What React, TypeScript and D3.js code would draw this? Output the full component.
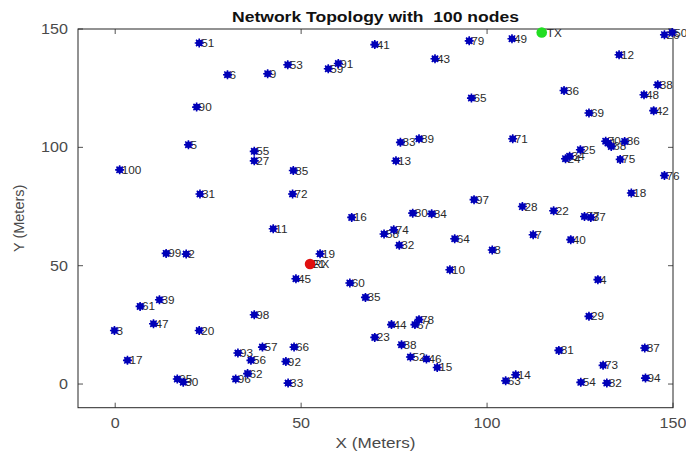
import React from 'react';
import * as d3 from 'd3';

const titleText = 'Network Topology with  100 nodes';
const xLabel = 'X (Meters)';
const yLabel = 'Y (Meters)';
const xTicks = [0, 50, 100, 150];
const yTicks = [0, 50, 100, 150];

const nodeIds = [
  1, 2, 3, 4, 5, 6, 7, 8, 9, 10,
  11, 12, 13, 14, 15, 16, 17, 18, 19, 20,
  21, 22, 23, 24, 25, 26, 27, 28, 29, 30,
  31, 32, 33, 34, 35, 36, 37, 38, 39, 40,
  41, 42, 43, 44, 45, 46, 47, 48, 49, 50,
  51, 52, 53, 54, 55, 56, 57, 58, 59, 60,
  61, 62, 63, 64, 65, 66, 67, 68, 69, 70,
  71, 72, 73, 74, 75, 76, 77, 78, 79, 80,
  81, 82, 83, 84, 85, 86, 87, 88, 89, 90,
  91, 92, 93, 94, 95, 96, 97, 98, 99, 100,
];
const nodeX = [
  132.5, 19.1, -0.2, 129.8, 19.7, 30.2, 112.4, 101.4, 41.0, 90.0,
  42.5, 135.5, 75.5, 107.7, 86.6, 63.6, 3.3, 138.8, 55.1, 22.6,
  52.4, 117.9, 69.8, 121.1, 125.1, 147.7, 37.4, 109.5, 127.4, 18.3,
  22.8, 76.4, 46.5, 122.2, 67.3, 120.7, 127.9, 145.9, 11.9, 122.5,
  69.8, 144.8, 86.0, 74.3, 48.6, 83.7, 10.3, 142.2, 106.7, 149.8,
  22.6, 79.4, 46.4, 125.2, 37.4, 36.5, 39.6, 72.3, 57.3, 63.1,
  6.7, 35.6, 105.0, 91.3, 95.8, 48.1, 80.6, 133.4, 127.4, 131.9,
  106.9, 47.7, 131.2, 74.9, 135.8, 147.7, 126.2, 81.7, 95.2, 80.0,
  119.3, 132.2, 76.7, 85.1, 47.9, 137.0, 142.4, 77.0, 81.7, 21.9,
  60.0, 45.9, 33.0, 142.6, 16.7, 32.4, 96.5, 37.4, 13.7, 1.2,
];
const nodeY = [
  101.8, 54.9, 22.6, 44.1, 101.1, 130.7, 63.1, 56.6, 131.1, 48.3,
  65.6, 139.1, 94.3, 3.9, 7.0, 70.4, 10.0, 80.7, 55.0, 22.6,
  50.7, 73.2, 19.7, 95.2, 99.0, 147.6, 94.3, 75.0, 28.6, 0.8,
  80.3, 58.6, 0.4, 96.2, 36.6, 124.0, 70.4, 126.4, 35.6, 61.0,
  143.4, 115.5, 137.4, 25.1, 44.5, 10.6, 25.5, 122.2, 145.9, 148.5,
  144.1, 11.4, 134.9, 0.7, 98.3, 10.0, 15.6, 63.4, 133.2, 42.7,
  32.8, 4.4, 1.4, 61.4, 120.8, 15.6, 25.1, 100.4, 114.5, 102.6,
  103.6, 80.3, 7.9, 65.2, 94.9, 88.1, 70.8, 27.2, 145.0, 72.2,
  14.2, 0.4, 102.1, 71.9, 90.2, 102.5, 15.2, 16.6, 103.6, 117.0,
  135.4, 9.5, 13.1, 2.5, 2.1, 2.1, 77.9, 29.3, 55.2, 90.5,
];
const txPoint = [114.7, 148.5];
const rxPoint = [52.4, 50.7];

const W = 686;
const H = 459;
const L = 78, R = 673, T = 29, B = 407.7;

export default function App() {
  const x = d3.scaleLinear().domain([-10, 150]).range([L, R]);
  const y = d3.scaleLinear().domain([-10, 150]).range([B, T]);
  const axisColor = '#262626';
  const tickColor = '#4a4a4a';
  const nodeColor = '#0000b8';
  const font = "'Liberation Sans', Arial, Helvetica, sans-serif";
  const tl = 5;
  const sx = (px: number, k: number) => `translate(${px},0) scale(${k},1) translate(${-px},0)`;
  const star = (cx: number, cy: number, k: number) => {
    const a = 4.5;
    const d = a * 0.7071;
    return (
      <g key={k}>
        <circle cx={cx} cy={cy} r={3.3} fill={nodeColor} />
        <path
          d={`M${cx - a},${cy}L${cx + a},${cy}M${cx},${cy - a}L${cx},${cy + a}M${cx - d},${cy - d}L${cx + d},${cy + d}M${cx - d},${cy + d}L${cx + d},${cy - d}`}
          stroke={nodeColor}
          strokeWidth={1.6}
        />
      </g>
    );
  };
  return (
    <svg width={W} height={H} style={{ position: 'absolute', left: 0, top: 0, background: '#fff' }} fontFamily={font}>
      <rect x={0} y={0} width={W} height={H} fill="#fff" />
      <text x={(L + R) / 2} y={22} textAnchor="middle" fontWeight="bold" fontSize={14.5} fill="#111"
        style={{ whiteSpace: 'pre' }} textLength={287} lengthAdjust="spacingAndGlyphs">{titleText}</text>
      <rect x={L} y={T} width={R - L} height={B - T} fill="none" stroke={axisColor} strokeWidth={1} />
      {xTicks.map((t) => (
        <g key={'xt' + t}>
          <line x1={x(t)} x2={x(t)} y1={B} y2={B - tl} stroke={axisColor} strokeWidth={0.8} />
          <line x1={x(t)} x2={x(t)} y1={T} y2={T + tl} stroke={axisColor} strokeWidth={0.8} />
          <text x={x(t)} y={B + 20} textAnchor="middle" fontSize={14} fill={tickColor}
            transform={sx(x(t), 1.15)}>{t}</text>
        </g>
      ))}
      {yTicks.map((t) => (
        <g key={'yt' + t}>
          <line x1={L} x2={L + tl} y1={y(t)} y2={y(t)} stroke={axisColor} strokeWidth={0.8} />
          <line x1={R} x2={R - tl} y1={y(t)} y2={y(t)} stroke={axisColor} strokeWidth={0.8} />
          <text x={L - 10} y={y(t) + 5} textAnchor="end" fontSize={14} fill={tickColor}
            transform={sx(L - 10, 1.15)}>{t}</text>
        </g>
      ))}
      <text x={(L + R) / 2} y={448} textAnchor="middle" fontSize={14.5} fill={tickColor}
        transform={sx((L + R) / 2, 1.18)}>{xLabel}</text>
      <text transform={`translate(24,${(T + B) / 2}) rotate(-90)`} textAnchor="middle" fontSize={14.5} fill={tickColor}>{yLabel}</text>
      {nodeIds.map((id, i) => (
        <text key={'l' + id} x={x(nodeX[i]) + 2} y={y(nodeY[i]) + 4} fontSize={10.5} fill="#2a2a2a"
          transform={sx(x(nodeX[i]) + 2, 1.12)}>{id}</text>
      ))}
      <text x={x(txPoint[0]) + 5} y={y(txPoint[1]) + 4} fontSize={10.5} fill="#2a2a2a"
        transform={sx(x(txPoint[0]) + 5, 1.12)}>TX</text>
      <text x={x(rxPoint[0]) + 3} y={y(rxPoint[1]) + 4} fontSize={10.5} fill="#2a2a2a"
        transform={sx(x(rxPoint[0]) + 3, 1.12)}>RX</text>
      {nodeIds.map((id, i) => star(x(nodeX[i]), y(nodeY[i]), id))}
      <circle cx={x(rxPoint[0])} cy={y(rxPoint[1])} r={5.3} fill="#e01010" />
      <circle cx={x(txPoint[0])} cy={y(txPoint[1])} r={5.3} fill="#22dd22" />
    </svg>
  );
}
